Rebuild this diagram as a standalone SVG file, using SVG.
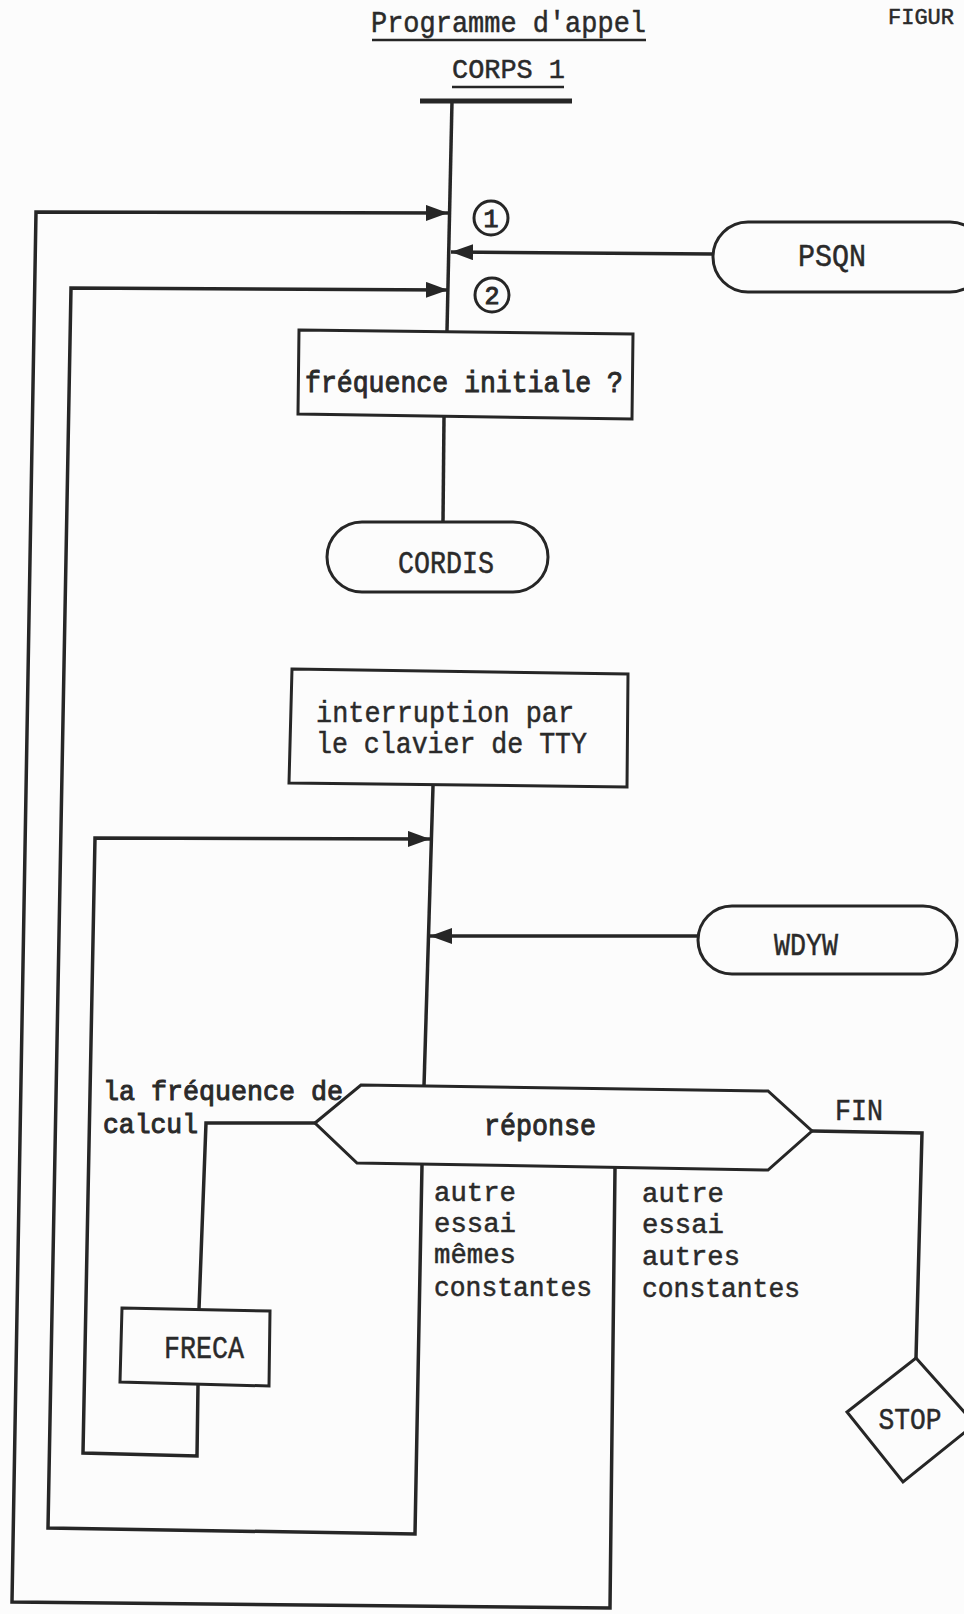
<svg xmlns="http://www.w3.org/2000/svg" width="964" height="1614" viewBox="0 0 964 1614">
<style>
.ln{fill:none;stroke:#262626;stroke-width:3.5;stroke-linejoin:miter}
.sh{fill:#fcfcfc;stroke:#262626;stroke-width:3}
.t{font-family:"Liberation Mono","Courier New",monospace;font-size:30px;fill:#2a2a2a;stroke:#2a2a2a;stroke-width:0.5}
.dk{stroke-width:1}
.c{text-anchor:middle}
.sm{font-size:27px}
.nd{font-size:32px}
</style>
<defs>
<marker id="ah" viewBox="0 0 22 16" refX="22" refY="8" markerWidth="22" markerHeight="16" markerUnits="userSpaceOnUse" orient="auto">
<path d="M0,0 L22,8 L0,16 z" fill="#262626"/>
</marker>
</defs>
<rect width="964" height="1614" fill="#fcfcfc"/>

<g id="title">
<text class="t" x="371" y="32" textLength="275" lengthAdjust="spacingAndGlyphs">Programme d'appel</text>
<line x1="372" y1="40" x2="646" y2="40" stroke="#262626" stroke-width="2.5"/>
<text class="t" x="452" y="78" style="font-size:28px" textLength="113" lengthAdjust="spacingAndGlyphs">CORPS 1</text>
<line x1="452" y1="87" x2="564" y2="87" stroke="#262626" stroke-width="2.5"/>
<text class="t" x="888" y="24" style="font-size:22px" textLength="66" lengthAdjust="spacingAndGlyphs">FIGUR</text>
</g>

<g id="start">
<line x1="420" y1="101" x2="572" y2="101" stroke="#262626" stroke-width="5"/>
</g>

<g id="connectors">
<path class="ln" d="M452,101 L447,331"/>
<path class="ln" d="M444,417 L443,522"/>
<path class="ln" d="M433,786 L424,1086"/>
<path class="ln" d="M615,1168 L610,1608 L12,1602 L36,212 L448,213" marker-end="url(#ah)"/>
<path class="ln" d="M422,1165 L415,1534 L48,1528 L71,288 L448,290" marker-end="url(#ah)"/>
<path class="ln" d="M198,1385 L197,1456 L83,1453 L95,838 L430,839" marker-end="url(#ah)"/>
<path class="ln" d="M713,254 L451,252" marker-end="url(#ah)"/>
<path class="ln" d="M698,936 L430,936" marker-end="url(#ah)"/>
<path class="ln" d="M315,1123 L206,1123 L199,1309" stroke-width="4.5"/>
<path class="ln" d="M812,1131 L922,1133 L916,1358" stroke-width="4"/>
</g>

<g id="mark1">
<circle cx="491" cy="218" r="17" fill="none" stroke="#262626" stroke-width="3"/>
<text class="t c dk" x="491" y="227" style="font-size:25px">1</text>
</g>
<g id="mark2">
<circle cx="492" cy="295" r="17" fill="none" stroke="#262626" stroke-width="3"/>
<text class="t c dk" x="492" y="304" style="font-size:25px">2</text>
</g>

<g id="psqn">
<rect class="sh" x="713" y="222" width="272" height="70" rx="35"/>
<text class="t c nd" x="832" y="266" textLength="68" lengthAdjust="spacingAndGlyphs">PSQN</text>
</g>

<g id="freq-init">
<polygon class="sh" points="299,330 633,334 632,419 298,414"/>
<text class="t dk" x="305" y="392" textLength="318" lengthAdjust="spacingAndGlyphs">fréquence initiale ?</text>
</g>

<g id="cordis">
<rect class="sh" x="327" y="522" width="221" height="70" rx="35"/>
<text class="t c nd" x="446" y="573" textLength="96" lengthAdjust="spacingAndGlyphs">CORDIS</text>
</g>

<g id="interruption">
<polygon class="sh" points="292,669 628,674 627,787 289,783"/>
<text class="t" x="316" y="722" textLength="258" lengthAdjust="spacingAndGlyphs">interruption par</text>
<text class="t" x="316" y="753" textLength="271" lengthAdjust="spacingAndGlyphs">le clavier de TTY</text>
</g>

<g id="wdyw">
<rect class="sh" x="698" y="906" width="259" height="68" rx="34"/>
<text class="t c nd" x="806" y="955" textLength="64" lengthAdjust="spacingAndGlyphs">WDYW</text>
</g>

<g id="reponse">
<polygon class="sh" points="315,1123 361,1085 768,1091 812,1131 768,1170 357,1163"/>
<text class="t c dk" x="540" y="1135" textLength="112" lengthAdjust="spacingAndGlyphs">réponse</text>
</g>

<g id="labels">
<text class="t dk" x="103" y="1100" style="font-size:28px" textLength="240" lengthAdjust="spacingAndGlyphs">la fréquence de</text>
<text class="t dk" x="103" y="1133" style="font-size:28px" textLength="95" lengthAdjust="spacingAndGlyphs">calcul</text>
<text class="t" x="835" y="1120" textLength="48" lengthAdjust="spacingAndGlyphs">FIN</text>
<text class="t sm" x="434" y="1201" textLength="82" lengthAdjust="spacingAndGlyphs">autre</text>
<text class="t sm" x="434" y="1232" textLength="82" lengthAdjust="spacingAndGlyphs">essai</text>
<text class="t sm" x="434" y="1263" textLength="82" lengthAdjust="spacingAndGlyphs">mêmes</text>
<text class="t sm" x="434" y="1296" textLength="158" lengthAdjust="spacingAndGlyphs">constantes</text>
<text class="t sm" x="642" y="1202" textLength="82" lengthAdjust="spacingAndGlyphs">autre</text>
<text class="t sm" x="642" y="1233" textLength="82" lengthAdjust="spacingAndGlyphs">essai</text>
<text class="t sm" x="642" y="1265" textLength="98" lengthAdjust="spacingAndGlyphs">autres</text>
<text class="t sm" x="642" y="1297" textLength="158" lengthAdjust="spacingAndGlyphs">constantes</text>
</g>

<g id="freca">
<polygon class="sh" points="122,1308 270,1311 269,1386 120,1382"/>
<text class="t c nd" x="204" y="1358" textLength="80" lengthAdjust="spacingAndGlyphs">FRECA</text>
</g>

<g id="stop">
<polygon class="sh" points="916,1358 975,1424 903,1482 847,1412"/>
<text class="t c" x="910" y="1429" textLength="63" lengthAdjust="spacingAndGlyphs">STOP</text>
</g>
</svg>
